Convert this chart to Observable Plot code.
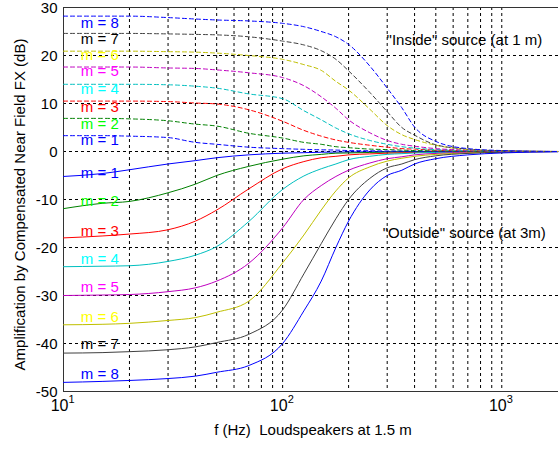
<!DOCTYPE html>
<html><head><meta charset="utf-8">
<script src="https://cdn.jsdelivr.net/npm/d3@7"></script>
<script src="https://cdn.jsdelivr.net/npm/@observablehq/plot@0.6"></script>
<style>
body{margin:0;background:#fff;}
#chart svg{display:block;}
</style></head><body><div id="chart"></div>
<script>
const freqs = [10, 15, 20, 30, 40, 50, 70, 100, 125, 150, 175, 200, 250, 300, 350, 400, 500, 700, 1000, 1800];
const orders = [1, 2, 3, 4, 5, 6, 7, 8];

// "Inside" source (at 1 m), dashed curves, dB, one row per order m = 1..8
const insideDb = [
  [3.3, 3.3, 3.2, 2.9, 1.9, 1.5, 0.9, 0.6, 0.45, 0.35, 0.3, 0.2, 0.15, 0.1, 0.08, 0.05, 0.03, 0.01, 0, 0],
  [6.9, 6.9, 6.8, 6.4, 5.7, 5.3, 3.8, 2.8, 1.9, 1.5, 1.0, 0.8, 0.5, 0.4, 0.3, 0.2, 0.15, 0.08, 0.03, 0],
  [10.5, 10.5, 10.5, 10.4, 10.1, 9.9, 8.7, 6.3, 4.4, 3.2, 2.4, 1.9, 1.3, 0.9, 0.6, 0.5, 0.3, 0.15, 0.05, 0],
  [14.0, 14.0, 14.0, 13.9, 13.6, 13.2, 12.0, 11.0, 8.5, 6.6, 4.9, 3.7, 2.3, 1.5, 1.0, 0.7, 0.4, 0.2, 0.08, 0],
  [17.6, 17.6, 17.6, 17.4, 17.3, 17.0, 16.4, 15.4, 13.7, 11.4, 9.0, 6.6, 3.9, 2.3, 1.5, 1.1, 0.6, 0.3, 0.1, 0],
  [20.9, 20.9, 20.9, 20.8, 20.7, 20.5, 20.0, 19.2, 18.1, 16.9, 14.6, 12.8, 8.8, 5.4, 3.5, 2.5, 1.3, 0.4, 0.15, 0],
  [24.6, 24.6, 24.6, 24.5, 24.4, 24.3, 23.9, 23.0, 22.2, 21.0, 19.2, 16.8, 12.3, 8.3, 5.0, 3.4, 1.4, 0.5, 0.15, 0],
  [28.2, 28.2, 28.2, 27.9, 27.6, 27.4, 27.2, 26.7, 26.0, 25.0, 23.9, 22.3, 17.8, 13.2, 9.1, 5.1, 2.1, 0.6, 0.2, 0]
];

// "Outside" source (at 3 m), solid curves, dB, one row per order m = 1..8
const outsideDb = [
  [-5.2, -4.6, -3.8, -2.6, -1.9, -1.3, -0.7, -0.35, -0.25, -0.15, -0.12, -0.1, -0.07, -0.05, -0.04, -0.03, -0.02, -0.01, 0, 0],
  [-11.9, -10.8, -10.4, -8.6, -6.8, -5.0, -3.1, -1.6, -0.9, -0.6, -0.35, -0.3, -0.2, -0.12, -0.1, -0.06, -0.04, -0.02, 0, 0],
  [-18.0, -17.6, -17.2, -16.3, -14.5, -12.2, -7.8, -3.6, -2.1, -1.3, -1.0, -0.7, -0.5, -0.35, -0.28, -0.2, -0.1, -0.05, -0.02, 0],
  [-24.0, -23.9, -23.8, -22.9, -21.6, -19.8, -14.6, -7.9, -5.1, -3.6, -2.6, -1.7, -1.0, -0.6, -0.45, -0.3, -0.2, -0.1, -0.05, 0],
  [-30.0, -29.9, -29.8, -29.2, -28.4, -27.0, -23.3, -15.9, -10.0, -7.1, -5.2, -3.9, -2.4, -1.5, -1.1, -0.7, -0.4, -0.2, -0.1, 0],
  [-36.1, -36.0, -35.8, -35.2, -34.6, -33.5, -31.2, -23.2, -17.4, -12.2, -8.2, -5.5, -3.2, -2.0, -1.4, -1.0, -0.6, -0.3, -0.1, 0],
  [-42.0, -41.9, -41.7, -41.3, -40.7, -39.8, -38.1, -33.0, -25.5, -19.2, -14.0, -10.0, -5.6, -3.4, -2.6, -1.7, -0.9, -0.4, -0.15, -0.03],
  [-48.1, -47.9, -47.7, -47.3, -46.8, -46.0, -44.6, -40.0, -33.2, -27.0, -20.0, -14.5, -8.0, -5.0, -3.9, -2.6, -1.5, -0.7, -0.3, -0.05]
];

const lineColors = ["#0000ff", "#008000", "#ff0000", "#00bfbf", "#bf00bf", "#bfbf00", "#404040", "#0000ff"];
const labelColors = ["#0000ff", "#00ff00", "#ff0000", "#00ffff", "#ff00ff", "#ffff00", "#000000", "#0000ff"];
const insideLabelDb = [2.4, 5.6, 9.2, 12.9, 16.7, 20.0, 23.5, 26.7];
const outsideLabelDb = [-4.6, -10.4, -16.5, -22.4, -28.3, -34.5, -40.1, -46.3];
const labelFreq = 12;

const yTicks = [-50, -40, -30, -20, -10, 0, 10, 20, 30];
const yGrid = [-40, -30, -20, -10, 0, 10, 20];
const xGrid = [20, 30, 40, 50, 60, 70, 80, 90, 100, 200, 300, 400, 500, 600, 700, 800, 900, 1000];
const xTickValues = [10, 100, 1000];
const xTickExponents = ["1", "2", "3"];

const insideNote = { f: 298, db: 23.2, text: "\"Inside\" source (at 1 m)" };
const outsideNote = { f: 286, db: -17.0, text: "\"Outside\" source (at 3m)" };
const xTitle = "f (Hz)  Loudspeakers at 1.5 m";
const yTitle = "Amplification by Compensated Near Field FX (dB)";

const rows = (table) => orders.map((m, i) => freqs.map((f, j) => ({ m, f, db: table[i][j] })));
const insideRows = rows(insideDb);
const outsideRows = rows(outsideDb);

const font = "'Liberation Sans', Arial, sans-serif";

const chart = Plot.plot({
  width: 560,
  height: 450,
  marginLeft: 63,
  marginRight: 2,
  marginTop: 7,
  marginBottom: 59,
  style: { fontFamily: font, fontSize: "15px", background: "#fff", color: "#000" },
  x: { type: "log", domain: [10, 1815], axis: null },
  y: { domain: [-50, 30], axis: null },
  color: { type: "identity" },
  marks: [
    Plot.gridX(xGrid, { stroke: "#000", strokeOpacity: 1, strokeWidth: 1, strokeDasharray: "3,3" }),
    Plot.gridY(yGrid, { stroke: "#000", strokeOpacity: 1, strokeWidth: 1, strokeDasharray: "3,3" }),
    Plot.ruleX([10], { stroke: "#333" }),
    Plot.ruleY([-50], { stroke: "#333" }),
    Plot.ruleY([30], { stroke: "#333" }),
    Plot.axisY(yTicks, { tickSize: 0, tickPadding: 6, fontSize: 15, label: null, dy: 1, tickFormat: d => String(d) }),
    Plot.text(xTickValues, { x: d => d, frameAnchor: "bottom", dy: 19, dx: 5, text: () => "10", textAnchor: "end", fontSize: 16 }),
    Plot.text(xTickValues, { x: d => d, frameAnchor: "bottom", dy: 11, dx: 5, text: (d, i) => xTickExponents[i], textAnchor: "start", fontSize: 11 }),
    Plot.text([xTitle], { frameAnchor: "bottom", dy: 43, dx: 2, textAnchor: "middle", fontSize: 15 }),
    Plot.text([yTitle], { frameAnchor: "left", rotate: -90, dx: -43, dy: 5, textAnchor: "middle", fontSize: 15 }),
    ...orders.map((m, i) => Plot.line(outsideRows[i], { x: "f", y: "db", stroke: lineColors[i], strokeWidth: 1, curve: "monotone-x" })),
    ...orders.map((m, i) => Plot.line(insideRows[i], { x: "f", y: "db", stroke: lineColors[i], strokeWidth: 1, strokeDasharray: "4,3", curve: "monotone-x" })),
    Plot.text(orders, { x: () => labelFreq, y: m => insideLabelDb[m - 1], text: m => `m = ${m}`, fill: m => labelColors[m - 1], textAnchor: "start", fontSize: 15 }),
    Plot.text(orders, { x: () => labelFreq, y: m => outsideLabelDb[m - 1], text: m => `m = ${m}`, fill: m => labelColors[m - 1], textAnchor: "start", fontSize: 15 }),
    Plot.text([insideNote], { x: "f", y: "db", text: "text", textAnchor: "start", fontSize: 15 }),
    Plot.text([outsideNote], { x: "f", y: "db", text: "text", textAnchor: "start", fontSize: 15 })
  ]
});
document.getElementById("chart").append(chart);
</script></body></html>
